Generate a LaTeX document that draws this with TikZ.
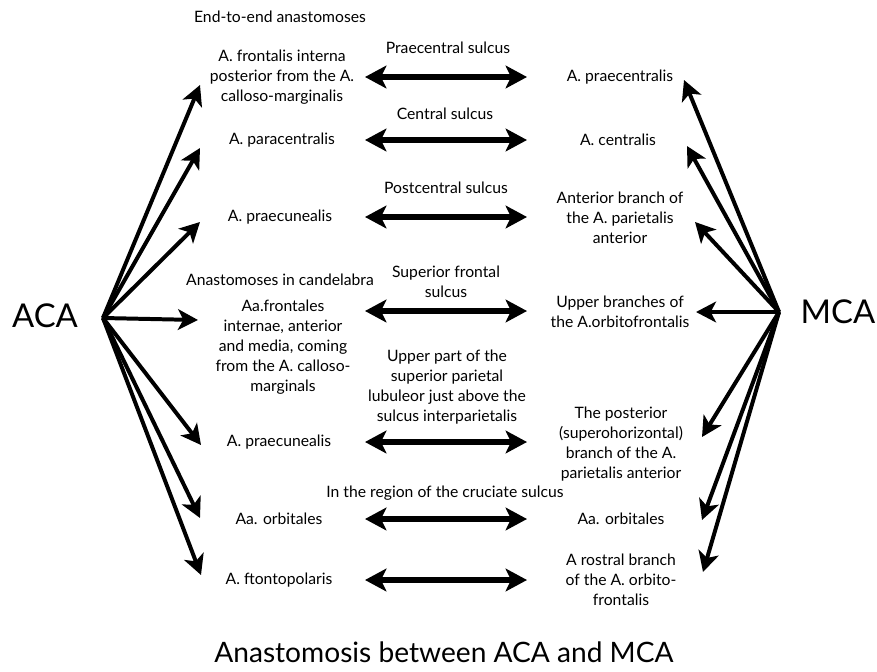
\documentclass[tikz,border=0pt]{standalone}
\usepackage{fontspec}
\setmainfont{Lato}
\usetikzlibrary{arrows.meta}
\tikzset{
    box/.style={align=center,font=\fontsize{13.4}{17}\selectfont,inner sep=1pt},
    big/.style={font=\fontsize{28}{32}\selectfont,inner sep=0pt},
    fan/.style={line width=3.4pt,-{Stealth[length=0.6cm,width=0.62cm,inset=0.16cm]}},
    link/.style={line width=4.4pt,{Stealth[length=0.64cm,width=0.68cm,inset=0.16cm]}-{Stealth[length=0.64cm,width=0.68cm,inset=0.16cm]}}
}
\begin{document}
\begin{tikzpicture}[x=0.03cm,y=-0.03cm]
    \useasboundingbox (0,0) rectangle (877,671);

    % left column (ACA side)
    \node[box] (head1) at (280,17) {End-to-end anastomoses};
    \node[box] (l1) at (282,77) {A. frontalis interna\\posterior from the A.\\calloso-marginalis};
    \node[box] (l2) at (282,140) {A. paracentralis};
    \node[box] (l3) at (280,217) {A. praecunealis};
    \node[box] (head2) at (280,280) {Anastomoses in candelabra};
    \node[box] (l4) at (283,347) {Aa.frontales\\internae, anterior\\and media, coming\\from the A. calloso-\\marginals};
    \node[box] (l5) at (279,442) {A. praecunealis};
    \node[box] (l6) at (279,519) {Aa. orbitales};
    \node[box] (l7) at (279,580) {A. ftontopolaris};

    % sulci
    \node[box] (m1) at (448,48) {Praecentral sulcus};
    \node[box] (m2) at (445,114) {Central sulcus};
    \node[box] (m3) at (446,188) {Postcentral sulcus};
    \node[box] (m4) at (446,282) {Superior frontal\\sulcus};
    \node[box] (m5) at (447,387) {Upper part of the\\superior parietal\\lubuleor just above the\\sulcus interparietalis};
    \node[box] (m6) at (445,493) {In the region of the cruciate sulcus};

    % right column (MCA side)
    \node[box] (r1) at (620,77) {A. praecentralis};
    \node[box] (r2) at (618,140) {A. centralis};
    \node[box] (r3) at (620,218) {Anterior branch of\\the A. parietalis\\anterior};
    \node[box] (r4) at (620,312) {Upper branches of\\the A.orbitofrontalis};
    \node[box] (r5) at (621,444) {The posterior\\(superohorizontal)\\branch of the A.\\parietalis anterior};
    \node[box] (r6) at (621,519) {Aa. orbitales};
    \node[box] (r7) at (621,580) {A rostral branch\\of the A. orbito-\\frontalis};

    % arteries
    \node[big] (aca) at (45,316) {ACA};
    \node[big] (mca) at (838,312) {MCA};
    \coordinate (acahub) at (103,318);
    \coordinate (mcahub) at (779,312);

    \node[font=\fontsize{24}{28}\selectfont,inner sep=0pt] (title) at (444,652) {Anastomosis between ACA and MCA};

    % branches
    \foreach \x/\y [count=\i] in {200/85, 200/148, 200/222, 198/320, 201/445, 200/518, 201/575} {
            \coordinate (ta\i) at (\x,\y);
            \draw[fan] (acahub) -- (ta\i);
        }
    \foreach \x/\y [count=\i] in {684/80, 687/146, 695/222, 696/312, 702/437, 702/520, 703/572} {
            \coordinate (tm\i) at (\x,\y);
            \draw[fan] (mcahub) -- (tm\i);
        }

    % end-to-end links
    \foreach \y [count=\i] in {77, 140, 217, 311, 442, 519, 580} {
            \coordinate (sa\i) at (365,\y);
            \coordinate (sb\i) at (527,\y);
            \draw[link] (sa\i) -- (sb\i);
        }
\end{tikzpicture}
\end{document}
